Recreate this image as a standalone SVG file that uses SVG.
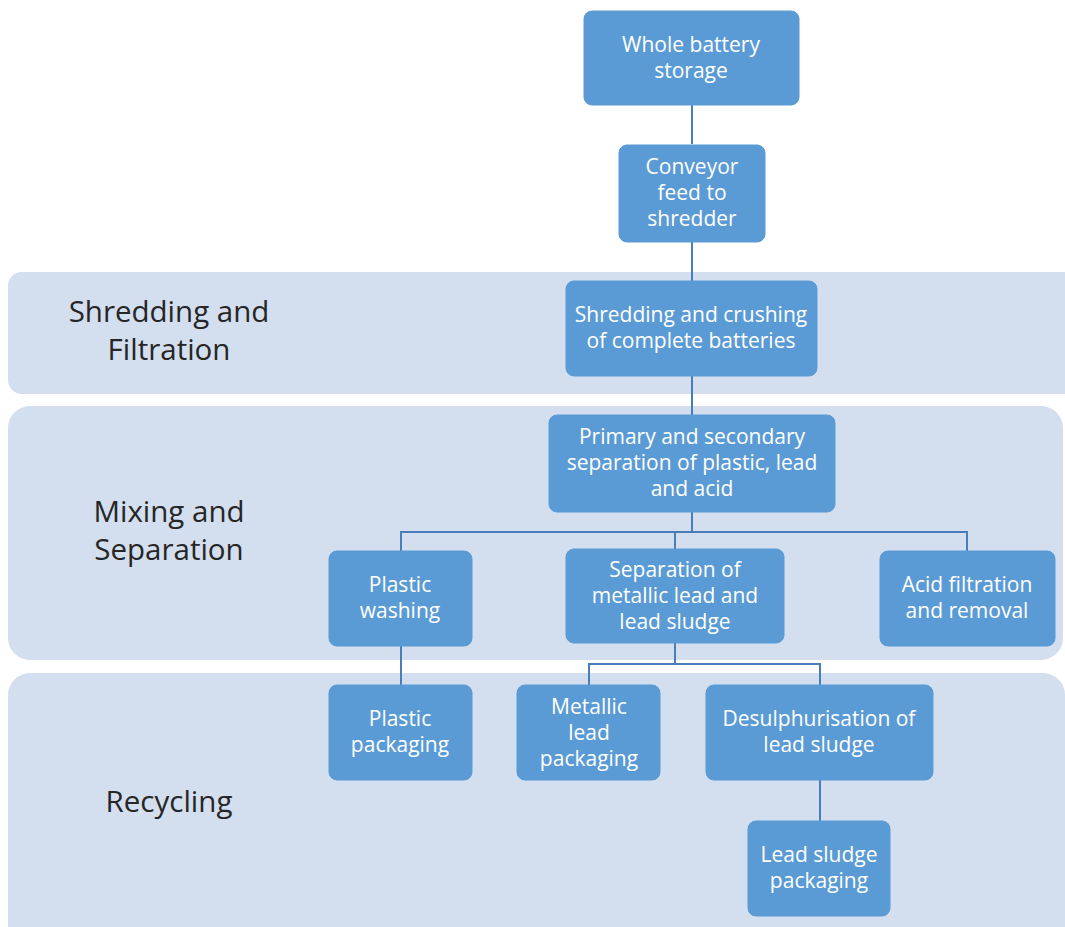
<svg xmlns="http://www.w3.org/2000/svg" width="1065" height="927" viewBox="0 0 1065 927">
<style>
.band{fill:#D3DEEF}
.node{fill:#5B9BD5;stroke:#5B9BD5;stroke-width:1}
.nt{fill:#FFFFFF;font-family:"Open Sans","Liberation Sans",sans-serif;font-size:21px;text-anchor:middle}
.bt{fill:#262626;font-family:"Open Sans","Liberation Sans",sans-serif;font-size:29.5px;text-anchor:middle}
.conn{fill:none;stroke:#4A7EBB;stroke-width:2}
</style>
<rect width="1065" height="927" fill="#FFFFFF"/>
<g id="bands">
<g id="band-shredding"><rect class="band" x="8" y="272" width="1075" height="122" rx="14"/><text class="bt" x="169" y="322">Shredding and</text><text class="bt" x="169" y="360">Filtration</text></g>
<g id="band-mixing"><rect class="band" x="8" y="406" width="1055" height="254" rx="22"/><text class="bt" x="169" y="522">Mixing and</text><text class="bt" x="169" y="560">Separation</text></g>
<g id="band-recycling"><rect class="band" x="8" y="673" width="1057" height="280" rx="22"/><text class="bt" x="169" y="812">Recycling</text></g>
</g>
<g id="connectors">
<path class="conn" d="M692 105V144"/>
<path class="conn" d="M692 242V281"/>
<path class="conn" d="M692 376V415"/>
<path class="conn" d="M692 512V532H401V551"/>
<path class="conn" d="M692 532H967V551"/>
<path class="conn" d="M675 532V549"/>
<path class="conn" d="M401 646V685"/>
<path class="conn" d="M675 643V664H589V685"/>
<path class="conn" d="M675 664H820V685"/>
<path class="conn" d="M820 780V821"/>
</g>
<g id="n-whole"><rect class="node" x="584" y="11" width="215" height="94" rx="8"/><text class="nt" x="691" y="52">Whole battery</text><text class="nt" x="691" y="78">storage</text></g>
<g id="n-conveyor"><rect class="node" x="619" y="145" width="146" height="97" rx="8"/><text class="nt" x="692" y="174">Conveyor</text><text class="nt" x="692" y="200">feed to</text><text class="nt" x="692" y="226">shredder</text></g>
<g id="n-shredding"><rect class="node" x="566" y="281" width="251" height="95" rx="8"/><text class="nt" x="691" y="322">Shredding and crushing</text><text class="nt" x="691" y="348">of complete batteries</text></g>
<g id="n-primary"><rect class="node" x="549" y="415" width="286" height="97" rx="8"/><text class="nt" x="692" y="444">Primary and secondary</text><text class="nt" x="692" y="470">separation of plastic, lead</text><text class="nt" x="692" y="496">and acid</text></g>
<g id="n-plastic-washing"><rect class="node" x="329" y="551" width="143" height="95" rx="8"/><text class="nt" x="400" y="592">Plastic</text><text class="nt" x="400" y="618">washing</text></g>
<g id="n-separation"><rect class="node" x="566" y="549" width="218" height="94" rx="8"/><text class="nt" x="675" y="577">Separation of</text><text class="nt" x="675" y="603">metallic lead and</text><text class="nt" x="675" y="629">lead sludge</text></g>
<g id="n-acid"><rect class="node" x="880" y="551" width="175" height="95" rx="8"/><text class="nt" x="967" y="592">Acid filtration</text><text class="nt" x="967" y="618">and removal</text></g>
<g id="n-plastic-packaging"><rect class="node" x="329" y="685" width="143" height="95" rx="8"/><text class="nt" x="400" y="726">Plastic</text><text class="nt" x="400" y="752">packaging</text></g>
<g id="n-metallic"><rect class="node" x="517" y="685" width="143" height="95" rx="8"/><text class="nt" x="589" y="714">Metallic</text><text class="nt" x="589" y="740">lead</text><text class="nt" x="589" y="766">packaging</text></g>
<g id="n-desulph"><rect class="node" x="706" y="685" width="227" height="95" rx="8"/><text class="nt" x="819" y="726">Desulphurisation of</text><text class="nt" x="819" y="752">lead sludge</text></g>
<g id="n-leadsludge"><rect class="node" x="748" y="821" width="142" height="95" rx="8"/><text class="nt" x="819" y="862">Lead sludge</text><text class="nt" x="819" y="888">packaging</text></g>
</svg>
